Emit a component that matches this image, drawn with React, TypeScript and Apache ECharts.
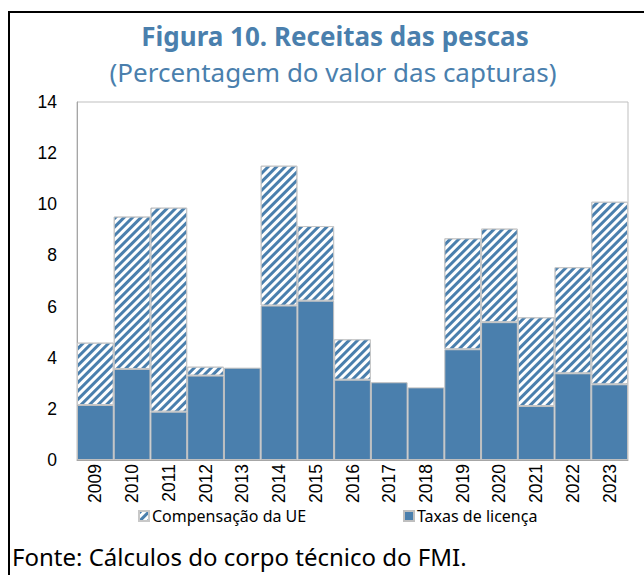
import React, { useEffect, useRef } from "react";
import * as echarts from "echarts";

const years = ["2009", "2010", "2011", "2012", "2013", "2014", "2015", "2016", "2017", "2018", "2019", "2020", "2021", "2022", "2023"];
const taxasLicenca = [2.15, 3.56, 1.89, 3.3, 3.61, 6.04, 6.23, 3.14, 3.04, 2.84, 4.33, 5.39, 2.11, 3.39, 2.96];
const compensacaoUE = [2.44, 5.96, 7.98, 0.35, null, 5.47, 2.92, 1.58, null, null, 4.34, 3.66, 3.47, 4.15, 7.14];
const yMin = 0;
const yMax = 14;
const yStep = 2;

const titleText = "Figura 10. Receitas das pescas";
const subtitleText = "(Percentagem do valor das capturas)";
const sourceText = "Fonte: Cálculos do corpo técnico do FMI.";
const seriesNames = ["Compensação da UE", "Taxas de licença"];

const BLUE = "#4a7fad";

export default function App() {
  const ref = useRef<HTMLDivElement>(null);
  useEffect(() => {
    document.body.style.margin = "0";
    const chart = echarts.init(ref.current!, null, { renderer: "svg" });
    const legendText = { fontFamily: "Noto Sans", fontSize: 16, color: "#000", padding: [0, 0, 0, -2] };
    chart.setOption({
      animation: false,
      backgroundColor: "#fff",
      grid: { left: 77, right: 16, top: 102, bottom: 115, show: true, borderColor: "#bfbfbf", borderWidth: 1 },
      legend: [
        { data: [seriesNames[0]], left: 133, top: 503, itemWidth: 10, itemHeight: 10, icon: "rect", textStyle: legendText },
        { data: [seriesNames[1]], left: 398, top: 503, itemWidth: 10, itemHeight: 10, icon: "rect", textStyle: legendText },
      ],
      xAxis: {
        type: "category",
        data: years,
        axisLine: { lineStyle: { color: "#a6a6a6" } },
        axisTick: { show: false },
        axisLabel: { rotate: 90, fontFamily: "Liberation Sans", fontSize: 17.5, color: "#000", margin: 4, interval: 0 },
      },
      yAxis: {
        type: "value",
        min: yMin,
        max: yMax,
        interval: yStep,
        axisLine: { show: true, lineStyle: { color: "#a6a6a6" } },
        axisTick: { show: false },
        splitLine: { show: false },
        axisLabel: { fontFamily: "Liberation Sans", fontSize: 17.5, color: "#000", margin: 20 },
      },
      series: [
        {
          name: seriesNames[1],
          type: "bar",
          stack: "total",
          barCategoryGap: "0%",
          data: taxasLicenca,
          itemStyle: { color: BLUE, borderColor: "#bfbfbf", borderWidth: 1 },
        },
        {
          name: seriesNames[0],
          type: "bar",
          stack: "total",
          barCategoryGap: "0%",
          data: compensacaoUE,
          itemStyle: {
            color: "#ffffff",
            borderColor: "#c8c8c8",
            borderWidth: 1,
            decal: {
              symbol: "rect",
              symbolSize: 1,
              color: BLUE,
              dashArrayX: [1, 0],
              dashArrayY: [2.1, 2.1],
              rotation: -Math.PI / 4,
            },
          },
        },
      ],
      graphic: [
        { type: "line", shape: { x1: 8, y1: 12, x2: 644, y2: 12 }, style: { stroke: "#000", lineWidth: 2 } },
        { type: "line", shape: { x1: 9, y1: 12, x2: 9, y2: 575 }, style: { stroke: "#000", lineWidth: 2 } },
        {
          type: "text",
          x: 335,
          y: 36,
          style: { text: titleText, textAlign: "center", textVerticalAlign: "middle", fontFamily: "Noto Sans", fontWeight: "bold", fontSize: 26, fill: BLUE },
        },
        {
          type: "text",
          x: 333,
          y: 72,
          style: { text: subtitleText, textAlign: "center", textVerticalAlign: "middle", fontFamily: "Noto Sans", fontSize: 26, fill: BLUE },
        },
        {
          type: "text",
          x: 12,
          y: 556,
          style: { text: sourceText, textAlign: "left", textVerticalAlign: "middle", fontFamily: "Noto Sans", fontSize: 24, fill: "#000" },
        },
      ],
    });
    return () => chart.dispose();
  }, []);
  return <div ref={ref} style={{ width: 644, height: 575 }} />;
}
